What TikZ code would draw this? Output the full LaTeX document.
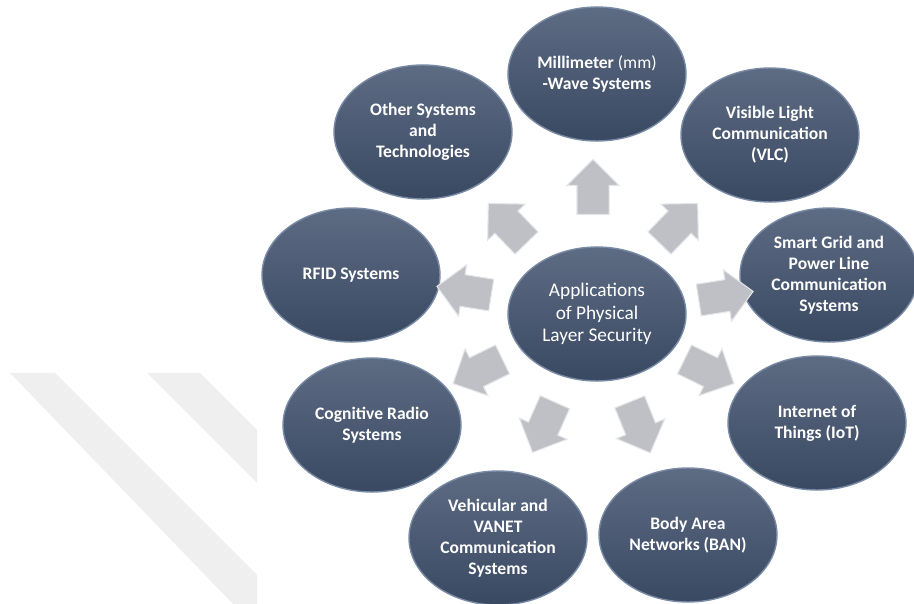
\documentclass[tikz,border=0pt]{standalone}
\usepackage{fontspec}
\setmainfont{Carlito}
\usepackage{tikz}
\usetikzlibrary{shapes.geometric}
\usetikzlibrary{shapes.arrows}
\usepackage{xcolor}

\definecolor{slatetop}{RGB}{93,107,131}
\definecolor{slatebot}{RGB}{58,73,98}
\definecolor{slaterim}{RGB}{120,138,164}
\definecolor{arrowgray}{RGB}{190,192,197}
\definecolor{arrowrim}{RGB}{228,230,234}
\definecolor{markgray}{RGB}{239,239,239}

\begin{document}
\begin{tikzpicture}[
  x=0.02cm, y=-0.02cm,
  topic/.style={ellipse, top color=slatetop, bottom color=slatebot, draw=slaterim,
    line width=0.8pt, minimum width=3.56cm, minimum height=2.68cm, inner sep=0pt,
    align=center, text=white, font=\fontsize{10}{12}\selectfont\bfseries},
  hub/.style={topic, font=\fontsize{11}{13}\selectfont},
  blockarrow/.style={single arrow, fill=arrowgray, draw=arrowrim, line width=0.6pt,
    minimum height=1.1cm, single arrow head extend=0.2cm, inner sep=0.31cm}
]
\useasboundingbox (0,0) rectangle (914,604);

% faint background bands
\begin{scope}
  \clip (0,373) rectangle (257,604);
  \fill[markgray] (10,373) -- (55,373) -- (286,604) -- (233,604) -- cycle;
  \fill[markgray] (147,373) -- (200,373) -- (431,604) -- (378,604) -- cycle;
\end{scope}

% centre
\node[hub] (phy) at (597,314) {Applications\\of Physical\\Layer Security};

% outer topics
\node[topic] (mmw)   at (597,74)  {Millimeter \textmd{(mm)}\\-Wave Systems};
\node[topic] (vlc)   at (770,135) {Visible Light\\Communication\\(VLC)};
\node[topic] (grid)  at (829,275) {Smart Grid and\\Power Line\\Communication\\Systems};
\node[topic] (iot)   at (817,423) {Internet of\\Things (IoT)};
\node[topic] (ban)   at (688,535) {Body Area\\Networks (BAN)};
\node[topic] (vanet) at (498,538) {Vehicular and\\VANET\\Communication\\Systems};
\node[topic] (cog)   at (372,425) {Cognitive Radio\\Systems};
\node[topic] (rfid)  at (351,275) {RFID Systems};
\node[topic] (other) at (423,132) {Other Systems\\and\\Technologies};

% block arrows pointing outwards
\foreach \px/\py/\ang [count=\i] in {593/195/90, 673/229/46, 718/297/9,
    702/368/-26, 637/420/-68, 547/420/-114, 485/368/-154, 472/292/171, 513/229/134}
  \node[blockarrow, rotate=\ang] (arr\i) at (\px,\py) {};
\end{tikzpicture}
\end{document}
